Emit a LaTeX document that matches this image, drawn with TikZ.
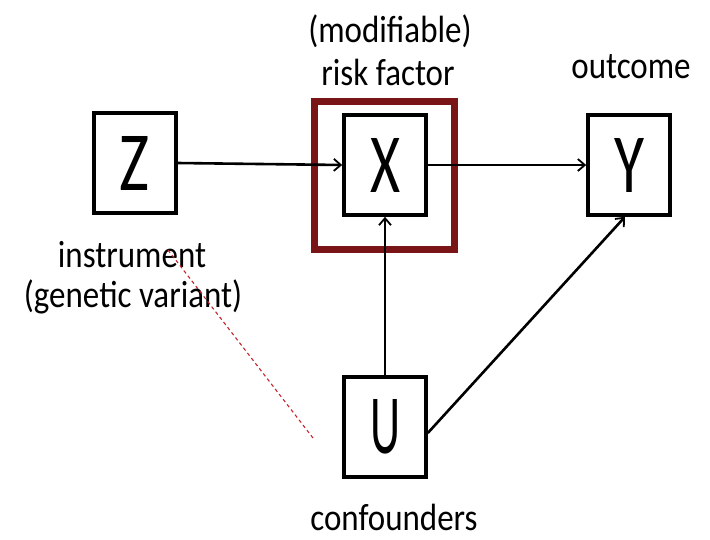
\documentclass[tikz,border=0pt]{standalone}
\usepackage{fontspec}
\setmainfont{Carlito}
\usetikzlibrary{arrows.meta}
\definecolor{framered}{HTML}{7A1517}
\definecolor{dashred}{HTML}{C4262E}
\newcommand\tallbox[1]{\scalebox{1}[1.15]{#1}}
\newcommand\boxletter[1]{\resizebox{30pt}{54pt}{#1}}
\begin{document}
\begin{tikzpicture}[x=1pt,y=-1pt,
  varbox/.style={draw=black,line width=3.6pt,fill=white,minimum width=82pt,minimum height=100pt,inner sep=0pt},
  lbl/.style={anchor=base,inner sep=0pt,font=\fontsize{33}{36}\selectfont},
  link/.style={line width=2.6pt,-{Straight Barb[length=7pt,width=12pt,line width=1.8pt]}}]
  \useasboundingbox (0,0) rectangle (710,539);

  % highlight round the risk factor
  \node[draw=framered,line width=7pt,minimum width=140pt,minimum height=148pt,inner sep=0pt] (frame) at (384.5,175.5) {};

  % variables
  \node[varbox] (Z) at (135,163) {\boxletter{Z}};
  \node[varbox] (X) at (385,165) {\boxletter{X}};
  \node[varbox] (Y) at (629,165) {\boxletter{Y}};
  \node[varbox] (U) at (385,427) {\boxletter{U}};

  % causal arrows
  \draw[link] (Z.east) -- (X.west);
  \draw[link] (X.east) -- (Y.west);
  \draw[link] (U.north) -- (X.south);
  \draw[link] ([yshift=-6pt]U.east) -- ([xshift=-4pt]Y.south);

  % labels
  \node[lbl] (tmod) at (390,42) {\tallbox{(modifiable)}};
  \node[lbl] (trisk) at (388,85) {\tallbox{risk factor}};
  \node[lbl] (tout) at (631,78) {\tallbox{outcome}};
  \node[lbl] (tinst) at (132,267) {\tallbox{instrument}};
  \node[lbl] (tgen) at (133,307) {\tallbox{(genetic variant)}};
  \node[lbl] (tconf) at (394,530) {\tallbox{confounders}};

  % dotted pointer
  \coordinate (d1) at (168,250);
  \coordinate (d2) at (313,438);
  \draw[dashred,line width=1.1pt,dash pattern=on 3.5pt off 3pt] (d1) -- (d2);
\end{tikzpicture}
\end{document}
